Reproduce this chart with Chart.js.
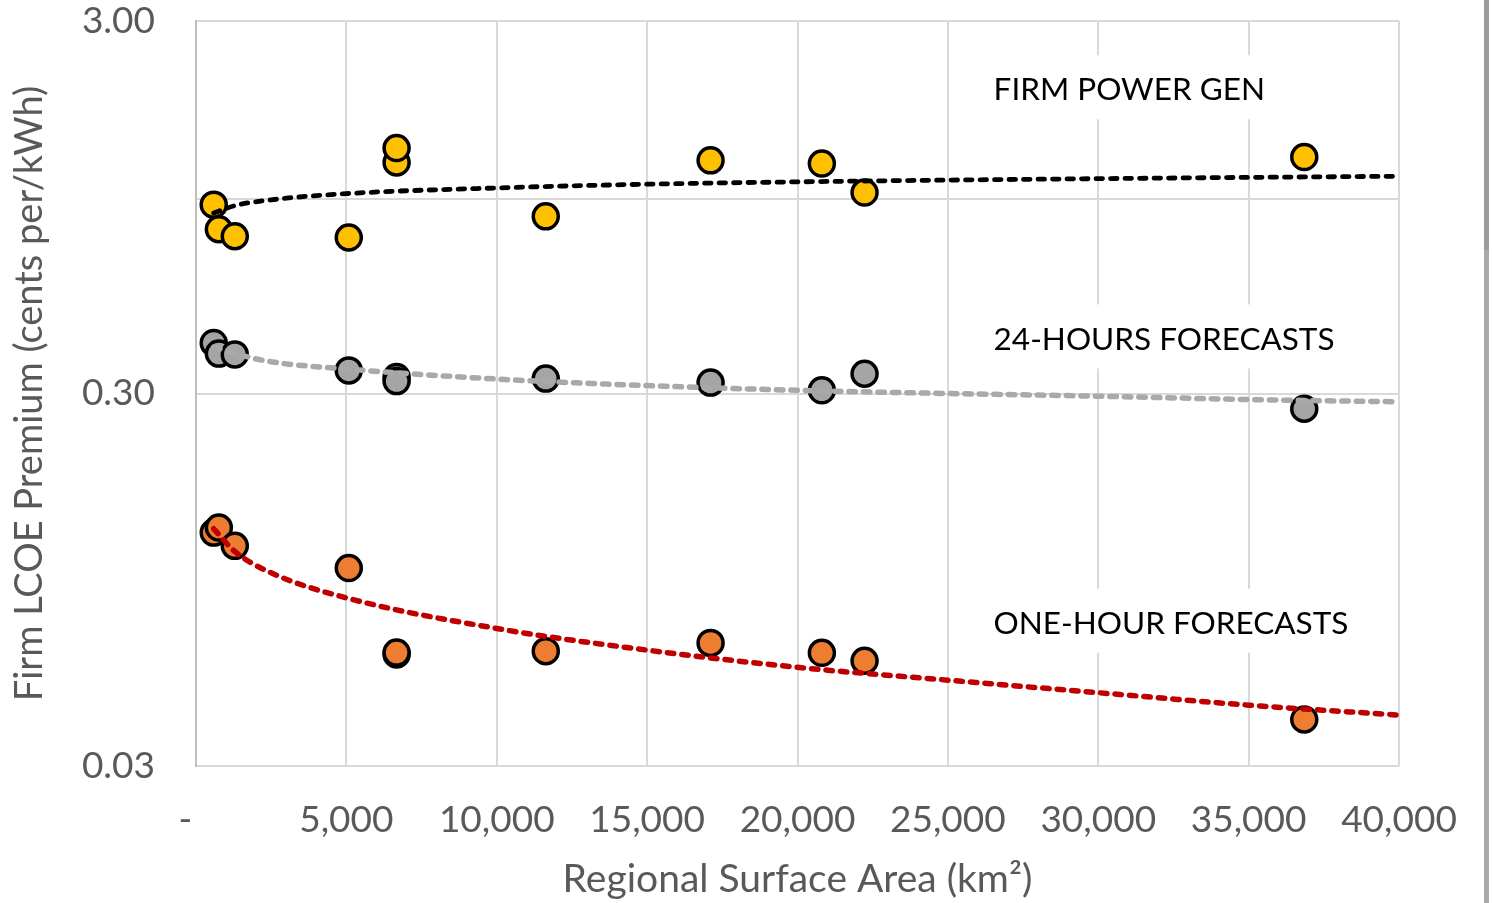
<!DOCTYPE html>
<html>
<head>
<meta charset="utf-8">
<title>Firm LCOE Premium vs Regional Surface Area</title>
<script src="https://cdn.jsdelivr.net/npm/chart.js@4/dist/chart.umd.min.js"></script>
<style>
  html, body { margin: 0; padding: 0; background: #ffffff; }
  #wrap { position: relative; width: 1492px; height: 903px; overflow: hidden; background: #ffffff; }
  #chart { position: absolute; left: 0; top: 0; }
  .edge { position: absolute; left: 1484px; width: 5px; }
</style>
</head>
<body>
<div id="wrap">
  <canvas id="chart" width="1492" height="903"></canvas>
  <div class="edge" style="top:0;height:250px;background:#9b9b9b"></div>
  <div class="edge" style="top:250px;height:653px;background:#a9a9a9"></div>
</div>
<script>
// Regional surface area of each region (km²)
const regionAreas = [590, 760, 1290, 5080, 6670, 6670, 11630, 17110, 20810, 22230, 36850];

// Firm LCOE premium (cents per kWh) for each region
const firmPowerGen      = [0.964, 0.828, 0.793, 0.787, 1.251, 1.368, 0.897, 1.268, 1.243, 1.039, 1.294];
const dayAheadForecasts = [0.410, 0.384, 0.382, 0.346, 0.332, 0.324, 0.329, 0.321, 0.306, 0.339, 0.273];
const oneHourForecasts  = [0.127, 0.131, 0.117, 0.102, 0.0598, 0.0605, 0.0610, 0.0642, 0.0604, 0.0575, 0.0400];

// Logarithmic trend lines, sampled along the area axis (km²)
const trendAreas        = [590, 1290, 2500, 5000, 10000, 15000, 20000, 25000, 30000, 35000, 40000];
const firmPowerGenTrend = [0.915, 0.958, 0.993, 1.032, 1.069, 1.094, 1.110, 1.122, 1.132, 1.141, 1.149];
const dayAheadTrend     = [0.400, 0.384, 0.365, 0.349, 0.328, 0.315, 0.306, 0.300, 0.295, 0.289, 0.285];
const oneHourTrend      = [0.130, 0.113, 0.099, 0.0848, 0.0702, 0.0614, 0.0552, 0.0510, 0.0472, 0.0437, 0.0411];

// Series names
const seriesNames = ['FIRM POWER GEN', '24-HOURS FORECASTS', 'ONE-HOUR FORECASTS'];

// Axis ticks
const xTickValues = [0, 5000, 10000, 15000, 20000, 25000, 30000, 35000, 40000];
const xTickLabels = ['-\u2007', '5,000', '10,000', '15,000', '20,000', '25,000', '30,000', '35,000', '40,000'];
const yTickValues = [0.03, 0.3, 1, 3];
const yTickLabels = ['0.03', '0.30', '', '3.00'];

function toPoints(xs, ys) {
  return xs.map((x, i) => ({ x: x, y: ys[i] }));
}

const FONT = 'Lato, "Open Sans", "DejaVu Sans", sans-serif';
const AXIS_GREY = '#595959';

function scatterSet(label, values, fill) {
  return {
    label: label,
    data: toPoints(regionAreas, values),
    showLine: false,
    pointRadius: 12.5,
    pointHoverRadius: 12.5,
    pointBackgroundColor: fill,
    pointBorderColor: '#000000',
    pointBorderWidth: 3.5,
    order: 2
  };
}

function trendSet(label, values, colour, width) {
  return {
    label: label + ' trend',
    data: toPoints(trendAreas, values),
    showLine: true,
    pointRadius: 0,
    borderColor: colour,
    borderWidth: width,
    borderDash: [6.5, 8],
    borderCapStyle: 'round',
    borderJoinStyle: 'round',
    cubicInterpolationMode: 'monotone',
    fill: false,
    order: 1
  };
}

// Series captions drawn on white boxes inside the plot
const captionPlugin = {
  id: 'seriesCaptions',
  afterDraw(chart, args, opts) {
    const ctx = chart.ctx;
    const xs = chart.scales.x, ys = chart.scales.y;
    ctx.save();
    ctx.font = opts.font;
    ctx.textBaseline = 'middle';
    ctx.textAlign = 'left';
    opts.items.forEach(it => {
      const px = xs.getPixelForValue(it.x);
      const py = ys.getPixelForValue(it.y);
      const w = ctx.measureText(it.text).width;
      ctx.fillStyle = '#ffffff';
      ctx.fillRect(px - 12, py - 35, w + 24, 64);
      ctx.fillStyle = '#000000';
      ctx.fillText(it.text, px, py);
    });
    ctx.restore();
  }
};

Chart.defaults.font.family = FONT;

new Chart(document.getElementById('chart'), {
  type: 'scatter',
  data: {
    datasets: [
      trendSet(seriesNames[0], firmPowerGenTrend, '#000000', 4.8),
      trendSet(seriesNames[1], dayAheadTrend, '#a9a9a9', 5.5),
      trendSet(seriesNames[2], oneHourTrend, '#c00000', 5.5),
      scatterSet(seriesNames[0], firmPowerGen, '#ffc000'),
      scatterSet(seriesNames[1], dayAheadForecasts, '#a5a5a5'),
      scatterSet(seriesNames[2], oneHourForecasts, '#ed7d31')
    ]
  },
  plugins: [captionPlugin],
  options: {
    responsive: false,
    animation: false,
    events: [],
    layout: { padding: { left: 0, right: 93, top: 21, bottom: 0 } },
    plugins: {
      legend: { display: false },
      tooltip: { enabled: false },
      seriesCaptions: {
        font: '31.5px ' + FONT,
        items: [
          { text: seriesNames[0], x: 26520, y: 1.955 },
          { text: seriesNames[1], x: 26520, y: 0.419 },
          { text: seriesNames[2], x: 26520, y: 0.0723 }
        ]
      }
    },
    scales: {
      x: {
        type: 'linear',
        min: 0,
        max: 40000,
        afterFit(scale) {
          scale.height = 137;
          scale.paddingLeft = 0;
          scale.paddingRight = 0;
        },
        afterBuildTicks(scale) { scale.ticks = xTickValues.map(v => ({ value: v })); },
        ticks: {
          autoSkip: false,
          maxRotation: 0,
          padding: 32,
          color: AXIS_GREY,
          font: { size: 37 },
          callback: (v, i) => xTickLabels[i]
        },
        grid: { color: '#d9d9d9', lineWidth: 2, drawTicks: false },
        border: { display: false },
        title: {
          display: true,
          text: 'Regional Surface Area (km²)',
          color: AXIS_GREY,
          font: { size: 39 },
          padding: { top: 0, bottom: 0 }
        }
      },
      y: {
        type: 'logarithmic',
        min: 0.03,
        max: 3,
        afterFit(scale) {
          scale.width = 196;
          scale.paddingTop = 0;
          scale.paddingBottom = 0;
        },
        afterBuildTicks(scale) { scale.ticks = yTickValues.map(v => ({ value: v })); },
        ticks: {
          padding: 41,
          color: AXIS_GREY,
          font: { size: 37 },
          callback: (v, i) => yTickLabels[i]
        },
        grid: { color: '#d9d9d9', lineWidth: 2, drawTicks: false },
        border: { display: true, color: '#bfbfbf', width: 2 },
        title: {
          display: true,
          text: 'Firm LCOE Premium (cents per/kWh)',
          color: AXIS_GREY,
          font: { size: 38 },
          padding: { top: 7, bottom: 0 }
        }
      }
    }
  }
});
</script>
</body>
</html>
